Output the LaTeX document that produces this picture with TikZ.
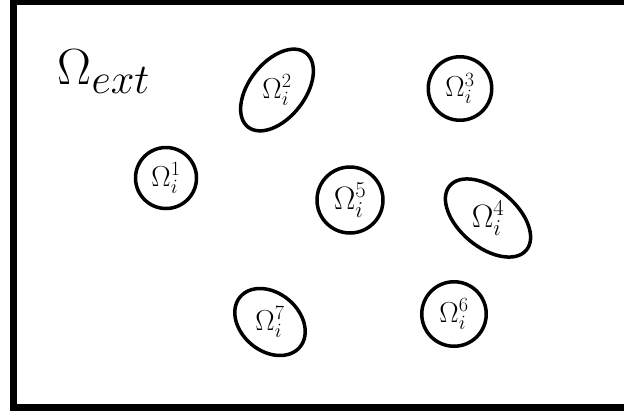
\RequirePackage{fix-cm}
\documentclass[tikz,border=0pt]{standalone}
\usetikzlibrary{shapes.geometric}
\DeclareMathSizes{51}{51}{42.5}{35}
\tikzset{
  region/.style={draw=black, line width=3.5bp, inner sep=0pt, font=\fontsize{29}{34}\selectfont},
  bigtext/.style={font=\fontsize{32.5}{38}\selectfont},
  roundregion/.style={region, circle},
  ovalregion/.style={region, ellipse},
  ovallabel/.style={inner sep=0pt, font=\fontsize{29}{34}\selectfont},
}
\begin{document}
\begin{tikzpicture}[x=1bp, y=-1bp]
\useasboundingbox (0,0) rectangle (624,412);
\draw[line width=7bp] (13.6,1.8) rectangle (660,407);
\node[anchor=base west, inner sep=0pt, font=\fontsize{51}{60}\selectfont] (ext) at (57.5,84.5) {$\Omega_{ext}$};
% circles
\node[roundregion, minimum size=61bp] (o1) at (166,178) {$\Omega_i^1$};
\node[roundregion, minimum size=63.5bp] (o3) at (460,88.5) {$\Omega_i^3$};
\node[roundregion, bigtext, minimum size=66bp] (o5) at (350,200) {$\Omega_i^5$};
\node[roundregion, minimum size=64.5bp] (o6) at (454,314) {$\Omega_i^6$};
% ellipses
\node[ovalregion, minimum width=94bp, minimum height=56bp, rotate=52] (o2) at (277,90) {};
\node[ovallabel] (t2) at (o2.center) {$\Omega_i^2$};
\node[ovalregion, minimum width=100bp, minimum height=58bp, rotate=-40] (o4) at (488,218) {};
\node[ovallabel, bigtext] (t4) at (o4.center) {$\Omega_i^4$};
\node[ovalregion, minimum width=78bp, minimum height=58bp, rotate=-40] (o7) at (270,322) {};
\node[ovallabel] (t7) at (o7.center) {$\Omega_i^7$};
\end{tikzpicture}
\end{document}
